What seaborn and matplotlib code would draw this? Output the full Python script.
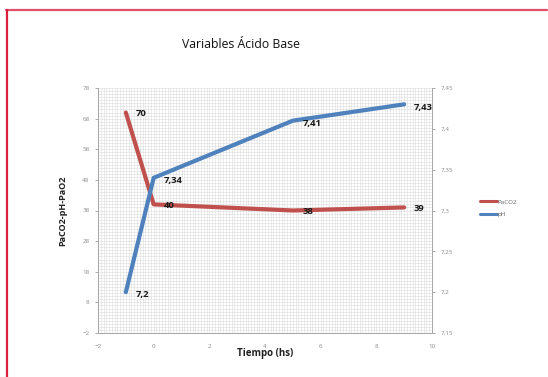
import matplotlib
matplotlib.use("Agg")
import matplotlib.pyplot as plt
from matplotlib.ticker import MultipleLocator, FuncFormatter
from matplotlib.lines import Line2D
import pandas as pd
import seaborn as sns

# Time points (hours) and measured values
tiempo = [-1, 0, 5, 9]
paco2 = [70, 40, 38, 39]
ph = [7.2, 7.34, 7.41, 7.43]
paco2_labels = ["70", "40", "38", "39"]
ph_labels = ["7,2", "7,34", "7,41", "7,43"]

df = pd.DataFrame({"Tiempo": tiempo, "PaCO2": paco2, "pH": ph})

sns.set_theme(style="white")
plt.rcParams["font.family"] = ["Open Sans", "DejaVu Sans"]

RED = "#C0504D"
BLUE = "#4F81BD"
GRID = "#DCDCDC"
TICK = "#8C8C8C"

fig = plt.figure(figsize=(5.48, 3.77), dpi=100)
ax = fig.add_axes([98 / 548, 1 - 333 / 377, (432 - 98) / 548, (333 - 88) / 377])
ax2 = ax.twinx()

sns.lineplot(data=df, x="Tiempo", y="PaCO2", ax=ax, color=RED, linewidth=3.0,
             solid_capstyle="round", legend=False)
sns.lineplot(data=df, x="Tiempo", y="pH", ax=ax2, color=BLUE, linewidth=3.0,
             solid_capstyle="round", legend=False)

# Axis ranges and ticks
ax.set_xlim(-2, 10)
ax.set_ylim(-2, 78)
ax2.set_ylim(7.15, 7.45)
ax.xaxis.set_major_locator(MultipleLocator(2))
ax.xaxis.set_minor_locator(MultipleLocator(0.1))
ax.set_yticks(list(range(-2, 79, 10)))
ax.yaxis.set_minor_locator(MultipleLocator(1))
ax2.set_yticks([7.15, 7.2, 7.25, 7.3, 7.35, 7.4, 7.45])

comma = FuncFormatter(lambda v, p: (f"{v:g}").replace(".", ","))
ax2.yaxis.set_major_formatter(comma)

ax.grid(True, which="both", color=GRID, linewidth=0.4)
ax.set_axisbelow(True)
ax2.grid(False)

for a in (ax, ax2):
    a.tick_params(axis="both", which="major", labelsize=4.5, colors=TICK,
                  length=2, width=0.5, direction="out")
    a.tick_params(which="minor", length=0)
    for s in a.spines.values():
        s.set_color("#A6A6A6")
        s.set_linewidth(0.6)
    a.spines["top"].set_visible(False)
ax.tick_params(axis="x", pad=6)
ax.tick_params(axis="y", pad=4)
ax2.tick_params(axis="y", pad=4)

ax.set_xlabel("Tiempo (hs)", fontsize=7, fontweight="bold", color="#222222", labelpad=-1)
ax.set_ylabel("PaCO2-pH-PaO2", fontsize=6.5, fontweight="bold", color="#222222", labelpad=11)
ax2.set_ylabel("")

# Data labels to the right of each point
for x, y, t in zip(tiempo, paco2, paco2_labels):
    ax.annotate(t, (x, y), xytext=(7, -1), textcoords="offset points",
                fontsize=6.8, fontweight="bold", color="#1A1A1A", va="center", ha="left")
for x, y, t in zip(tiempo, ph, ph_labels):
    ax2.annotate(t, (x, y), xytext=(7, -2), textcoords="offset points",
                 fontsize=6.8, fontweight="bold", color="#1A1A1A", va="center", ha="left")

fig.text(241 / 548, 1 - 45 / 377, "Variables Ácido Base", fontsize=8.8,
         ha="center", va="center", color="#111111")

# Legend on the right, outside the plot area
handles = [Line2D([0], [0], color=RED, linewidth=2.2),
           Line2D([0], [0], color=BLUE, linewidth=2.2)]
fig.legend(handles, ["PaCO2", "pH"], loc="center left",
           bbox_to_anchor=(474 / 548, 1 - 208 / 377), frameon=False,
           fontsize=4.5, handlelength=2.8, handletextpad=0.1, labelspacing=1.1,
           labelcolor="#666666")

# Frame around the figure (top and left edges)
fig.add_artist(Line2D([6 / 548, 547 / 548], [1 - 10 / 377, 1 - 10 / 377],
                      color="#E0506A", linewidth=1.6, transform=fig.transFigure))
fig.add_artist(Line2D([7 / 548, 7 / 548], [0, 1 - 10 / 377],
                      color="#D8203E", linewidth=1.6, transform=fig.transFigure))

fig.savefig("out.png", dpi=100)
